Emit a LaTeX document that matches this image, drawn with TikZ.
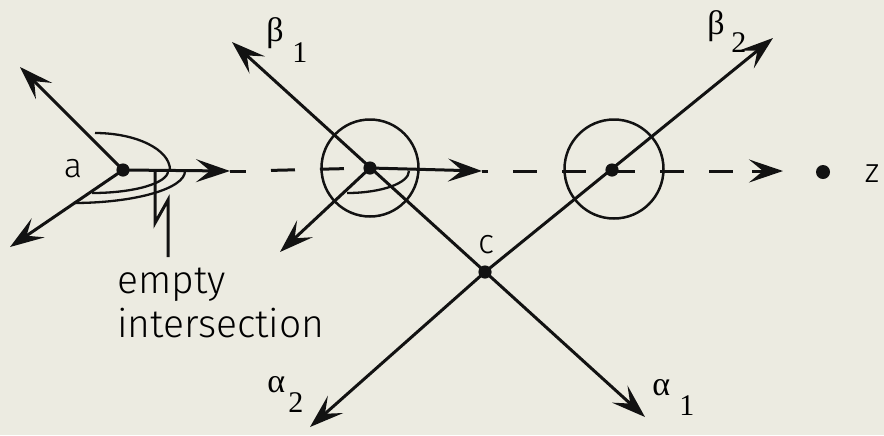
\documentclass[tikz,border=0pt]{standalone}
\usepackage{fontspec}
\setmainfont{Liberation Sans}
\IfFontExistsTF{Fira Sans Light}{\newfontfamily\lt{Fira Sans Light}}{\newfontfamily\lt{Liberation Sans}}
\newfontfamily\grk{Liberation Serif}
\usetikzlibrary{arrows.meta}
\definecolor{paper}{RGB}{236,235,225}
\definecolor{ink}{RGB}{18,18,18}
\begin{document}
\begin{tikzpicture}[x=0.5pt,y=-0.5pt,
  ln/.style={draw=ink, line width=1.5pt},
  thin/.style={draw=ink, line width=1.15pt},
  tip/.style={-{Stealth[length=17pt,width=11.5pt,inset=7pt]}},
  twotip/.style={{Stealth[length=17pt,width=11.5pt,inset=7pt]}-{Stealth[length=17pt,width=11.5pt,inset=7pt]}},
  dot/.style={circle, fill=ink, inner sep=0pt, minimum size=6.6pt},
  ring/.style={circle, draw=ink, line width=1.25pt, inner sep=0pt},
  dsh/.style={draw=ink, line width=1.5pt, dash pattern=on 12pt off 12.5pt, dash phase=12pt},
  lab/.style={inner sep=0pt, font=\lt\fontsize{17}{20}\selectfont},
  txt/.style={inner sep=0pt, anchor=base west, font=\lt\fontsize{19.5}{22}\selectfont},
  gk/.style={inner sep=0pt, anchor=base west, font=\grk\fontsize{17}{20}\selectfont},
  sb/.style={inner sep=0pt, anchor=base west, font=\grk\fontsize{15}{18}\selectfont}
]
\fill[paper] (0,0) rectangle (884,435);
\useasboundingbox (0,0) rectangle (884,435);

% key points
\coordinate (ul) at (20,67);
\coordinate (dl) at (10,247);
\coordinate (aA) at (230,171);
\coordinate (aE) at (246,171);
\coordinate (b1c) at (370,168);
\coordinate (beta1) at (232,42);
\coordinate (alpha1) at (645,417);
\coordinate (b1dl) at (280,252);
\coordinate (b1A) at (482,171);
\coordinate (b1E) at (488,171);
\coordinate (dE) at (735,171);
\coordinate (zA0) at (752,171);
\coordinate (zA) at (783,171);
\coordinate (alpha2) at (310,427);
\coordinate (beta2) at (773,38);
\coordinate (cc) at (485,272);
\coordinate (b2c) at (612,170);
\coordinate (p0) at (155,172);
\coordinate (p1) at (155,223);
\coordinate (p2) at (168,200);
\coordinate (p3) at (168,257);

% circles
\node[ring, minimum size=48.5pt] (r1) at (370,168) {};
\node[ring, minimum size=49.5pt] (r2) at (614,169) {};

% dots
\node[dot] (a) at (123,170) {};
\node[dot] (b1) at (b1c) {};
\node[dot] (b2) at (b2c) {};
\node[dot] (c) at (cc) {};
\node[dot, minimum size=7pt] (zd) at (823,172) {};

% arrows at a
\draw[ln, tip] (a.center) -- (ul);
\draw[ln, tip] (a.center) -- (dl);
\draw[ln, tip] (a.center) -- (aA);
\draw[ln] (aA) -- (aE);

% arcs at a
\draw[thin] (95,133) arc[start angle=90, end angle=0, x radius=37.5pt, y radius=18.5pt];
\draw[thin] (92,193) arc[start angle=-90, end angle=0, x radius=38pt, y radius=11pt];
\draw[thin] (73,203) arc[start angle=-90, end angle=0, x radius=56pt, y radius=16pt];

% pointer
\draw[ln, line join=miter] (p0) -- (p1) -- (p2) -- (p3);

% dashed line a to b1
\draw[dsh] (aE) -- (b1.center);

% lines through b1 and c
\draw[ln, twotip] (beta1) -- (alpha1);
\draw[ln, twotip] (alpha2) -- (c.center) -- (beta2);
\draw[ln, tip] (b1.center) -- (b1dl);
\draw[thin] (347,193) arc[start angle=-90, end angle=0, x radius=31pt, y radius=11pt];

% horizontal from b1
\draw[ln, tip] (b1.center) -- (b1A);
\draw[ln] (b1A) -- (b1E);
\draw[dsh] (b1E) -- (dE);
\draw[ln, tip] (zA0) -- (zA);

% labels
\node[lab] (la) at (73,169) {a};
\node[lab] (lc) at (486,245) {c};
\node[lab] (lz) at (872,174) {z};
\node[txt] (t1) at (117,293) {empty};
\node[txt] (t2) at (117,337) {intersection};

\node[gk] (gb1) at (266,41) {β};
\node[sb] (sb1) at (292,62) {1};
\node[gk] (gb2) at (707,34) {β};
\node[sb] (sb2) at (731,52) {2};
\node[gk] (ga2) at (267,392) {α};
\node[sb] (sa2) at (288,412) {2};
\node[gk] (ga1) at (652,395) {α};
\node[sb] (sa1) at (679,415) {1};
\end{tikzpicture}
\end{document}
